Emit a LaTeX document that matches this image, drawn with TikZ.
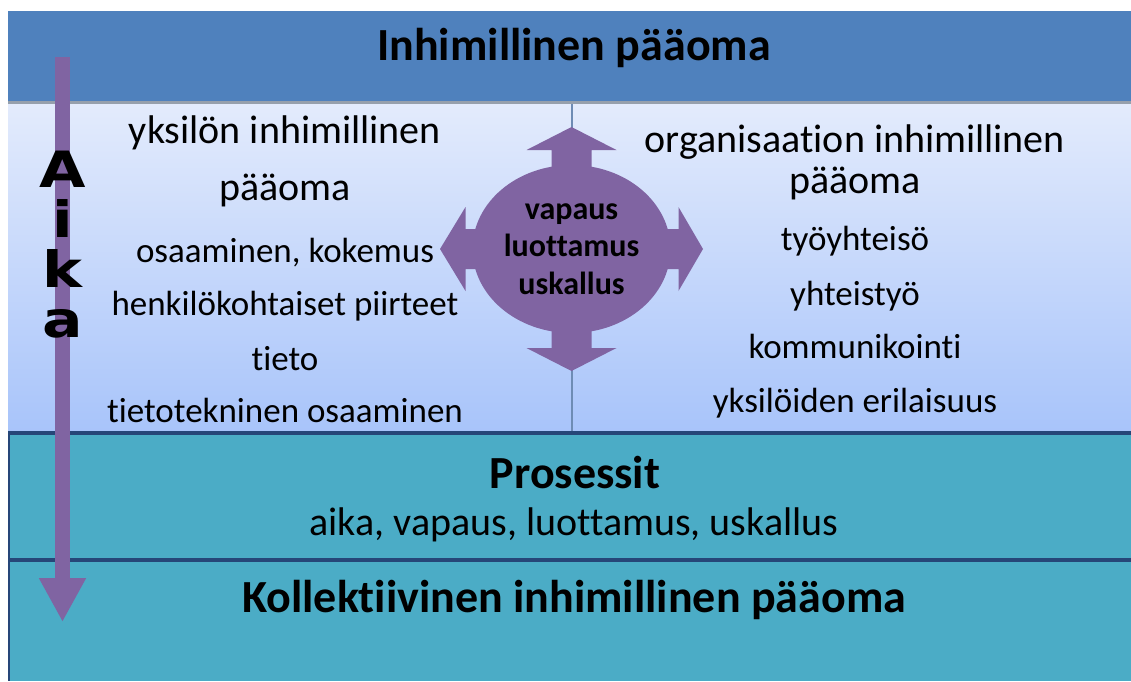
\documentclass[tikz,border=0pt]{standalone}
\usepackage{fontspec}
\setmainfont{Carlito}[Ligatures=NoCommon]
\newfontfamily\aikafont{DejaVu Sans}[FakeStretch=1.2]
\usepackage{tikz}
\usetikzlibrary{shapes.geometric,arrows.meta}

\definecolor{topblue}{HTML}{4F81BD}
\definecolor{lighttop}{RGB}{227,235,252}
\definecolor{lightbottom}{RGB}{168,196,250}
\definecolor{procteal}{HTML}{4BACC6}
\definecolor{edgeblue}{RGB}{38,70,120}
\definecolor{hubpurple}{HTML}{8064A2}
\definecolor{splitgrey}{RGB}{150,160,172}
\definecolor{dividerblue}{RGB}{110,140,180}

\begin{document}
\begin{tikzpicture}[
x=1pt, y=-1pt,
headtext/.style={anchor=base, inner sep=0pt, font=\fontsize{46}{54}\selectfont\bfseries},
bigitem/.style={anchor=base, inner sep=0pt, font=\fontsize{40}{48}\selectfont},
smallitem/.style={anchor=base, inner sep=0pt, font=\fontsize{35}{42}\selectfont},
aikaletters/.style={anchor=north, inner sep=0pt, align=center, font=\aikafont\fontsize{50}{50}\selectfont\bfseries},
hubnode/.style={ellipse, fill=hubpurple, minimum width=198, minimum height=168, inner sep=0pt, align=center, font=\fontsize{32}{37.5}\selectfont\bfseries},
aikaarrow/.style={hubpurple, line width=15pt, -{Triangle[width=44pt,length=44pt]}}
]
\useasboundingbox (0,0) rectangle (1131,681);

%Bands
\fill[topblue] (8,11) rectangle (1131,101);
\fill[splitgrey] (8,101) rectangle (1131,104);
\shade[top color=lighttop, bottom color=lightbottom] (8,104) rectangle (1131,432);
\fill[procteal] (8,432) rectangle (1131,681);
\fill[edgeblue] (8,431) rectangle (1131,435);
\fill[edgeblue] (8,558) rectangle (1131,562);
\draw[edgeblue, line width=1.5pt] (8.75,432) -- (8.75,681);
\draw[dividerblue, line width=1.2pt] (572,104) -- (572,431);

%Nodes
\node[headtext]   (title)   at (574,60)  {Inhimillinen pääoma};

\node[bigitem]    (yksilo)  at (285,143) {yksilön inhimillinen};
\node[bigitem]    (yksilop) at (285,200) {pääoma};
\node[smallitem]  (osaam)   at (285,262) {osaaminen, kokemus};
\node[smallitem]  (piirt)   at (285,315) {henkilökohtaiset piirteet};
\node[smallitem]  (tieto)   at (285,370) {tieto};
\node[smallitem]  (tietot)  at (285,422) {tietotekninen osaaminen};

\node[bigitem]    (organ)   at (855,152) {organisaation inhimillinen};
\node[bigitem]    (organp)  at (855,193) {pääoma};
\node[smallitem]  (tyoyht)  at (855,250) {työyhteisö};
\node[smallitem]  (yhteis)  at (855,305) {yhteistyö};
\node[smallitem]  (kommun)  at (855,358) {kommunikointi};
\node[smallitem]  (erilai)  at (855,412) {yksilöiden erilaisuus};

\node[headtext]   (prosess) at (575,488) {Prosessit};
\node[bigitem]    (prosarv) at (574,535) {aika, vapaus, luottamus, uskallus};
\node[headtext]   (kollekt) at (574,612) {Kollektiivinen inhimillinen pääoma};

\node[hubnode]    (hub)     at (571.5,249) {vapaus\\luottamus\\uskallus};

%Hub arrows
\begin{scope}[shift={(hub.center)}]
\fill[hubpurple] (-20,-75) -- (-20,-99) -- (-45,-99) -- (0,-122) -- (45,-99) -- (20,-99) -- (20,-75) -- cycle;
\fill[hubpurple] (-20,75) -- (-20,99) -- (-45,99) -- (0,122) -- (45,99) -- (20,99) -- (20,75) -- cycle;
\fill[hubpurple] (-88,-20) -- (-106,-20) -- (-106,-42) -- (-131.5,0) -- (-106,42) -- (-106,20) -- (-88,20) -- cycle;
\fill[hubpurple] (88,-20) -- (107,-20) -- (107,-42) -- (131.5,0) -- (107,42) -- (107,20) -- (88,20) -- cycle;
\end{scope}

%Time arrow
\coordinate (aikastart) at (62.5,57);
\coordinate (aikaend)   at (62.5,622);
\draw[aikaarrow] (aikastart) -- (aikaend);

\node[aikaletters] (aika) at (62.5,151) {A\\i\\k\\a};

\end{tikzpicture}
\end{document}
